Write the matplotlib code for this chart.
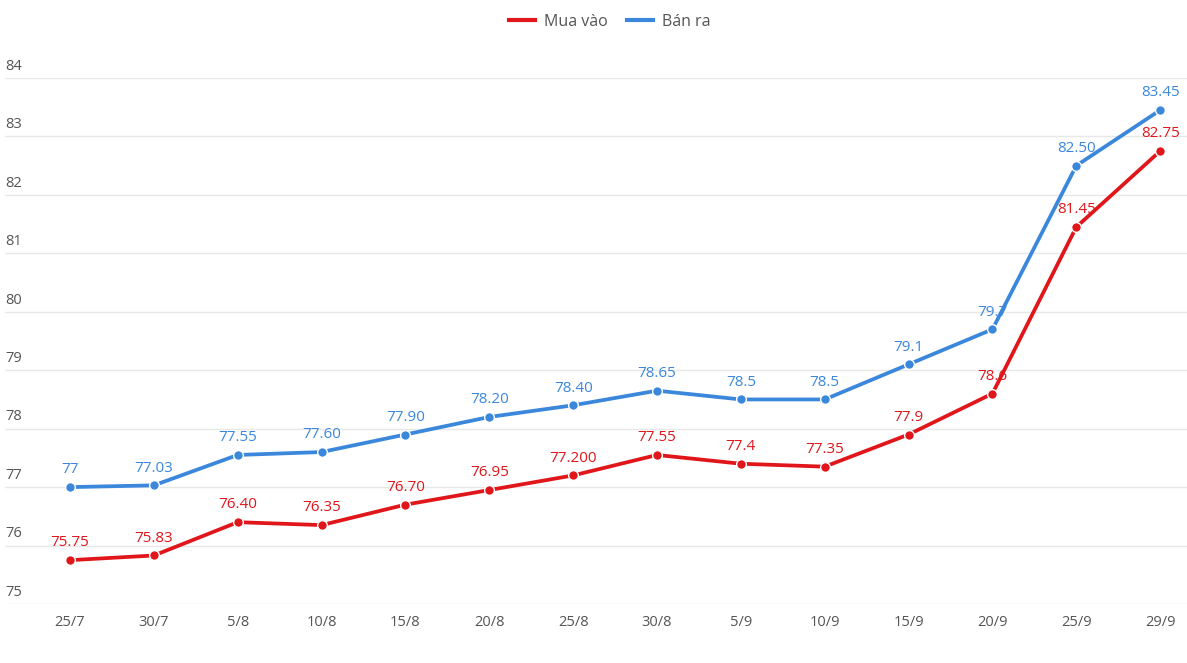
import matplotlib.pyplot as plt
import matplotlib.transforms as mtransforms

dates = ['25/7', '30/7', '5/8', '10/8', '15/8', '20/8', '25/8', '30/8',
         '5/9', '10/9', '15/9', '20/9', '25/9', '29/9']
mua_vao = [75.75, 75.83, 76.40, 76.35, 76.70, 76.95, 77.20, 77.55,
           77.4, 77.35, 77.9, 78.6, 81.45, 82.75]
mua_vao_labels = ['75.75', '75.83', '76.40', '76.35', '76.70', '76.95', '77.200', '77.55',
                  '77.4', '77.35', '77.9', '78.6', '81.45', '82.75']
ban_ra = [77, 77.03, 77.55, 77.60, 77.90, 78.20, 78.40, 78.65,
          78.5, 78.5, 79.1, 79.7, 82.50, 83.45]
ban_ra_labels = ['77', '77.03', '77.55', '77.60', '77.90', '78.20', '78.40', '78.65',
                 '78.5', '78.5', '79.1', '79.7', '82.50', '83.45']
yticks = [75, 76, 77, 78, 79, 80, 81, 82, 83, 84]

red = '#e0161b'
blue = '#3a87dc'
grey = '#555555'

plt.rcParams['font.family'] = ['Open Sans', 'DejaVu Sans']

fig = plt.figure(figsize=(11.87, 6.63), dpi=100)
ax = fig.add_axes([5 / 1187, 1 - 604 / 663, 1 - 5 / 1187, (604 - 78) / 663])

x = list(range(len(dates)))

# red first, blue on top (blue line overlaps some red labels)
ax.plot(x, mua_vao, color=red, lw=2.7, marker='o', ms=7, mec='white', mew=1, zorder=3)
ax.plot(x, ban_ra, color=blue, lw=2.7, marker='o', ms=7, mec='white', mew=1, zorder=5)

for xi, v, s in zip(x, mua_vao, mua_vao_labels):
    ax.annotate(s, (xi, v), xytext=(0, 7), textcoords='offset points',
                ha='center', va='bottom', color=red, fontsize=11, zorder=4)
for xi, v, s in zip(x, ban_ra, ban_ra_labels):
    ax.annotate(s, (xi, v), xytext=(0, 7), textcoords='offset points',
                ha='center', va='bottom', color=blue, fontsize=11, zorder=4)

ax.set_ylim(75, 84)
ax.set_xlim(-0.775, 13.32)
ax.set_yticks(yticks)
ax.yaxis.grid(True, color='#e8e8e8', lw=1)
ax.set_axisbelow(True)
ax.tick_params(axis='y', length=0, labelleft=False)
ax.set_xticks(x)
ax.set_xticklabels(dates, color=grey, fontsize=10.5)
ax.tick_params(axis='x', length=0, pad=8)
for sp in ax.spines.values():
    sp.set_visible(False)

# y tick labels sit above the grid lines, at the left edge
trans = mtransforms.blended_transform_factory(ax.transAxes, ax.transData)
for t in yticks:
    ax.annotate(str(t), (0, t), xycoords=trans, xytext=(0, 3), textcoords='offset points',
                ha='left', va='bottom', color=grey, fontsize=10.5)

# legend
lr, = ax.plot([], [], color=red, lw=3)
lb, = ax.plot([], [], color=blue, lw=3)
fig.legend([lr, lb], ['Mua vào', 'Bán ra'], loc='center', bbox_to_anchor=(610 / 1187, 1 - 22 / 663),
           ncol=2, frameon=False, fontsize=11.5, labelcolor=grey, handlelength=1.6,
           columnspacing=1.2, handletextpad=0.6)

fig.savefig('out.png', dpi=100)
